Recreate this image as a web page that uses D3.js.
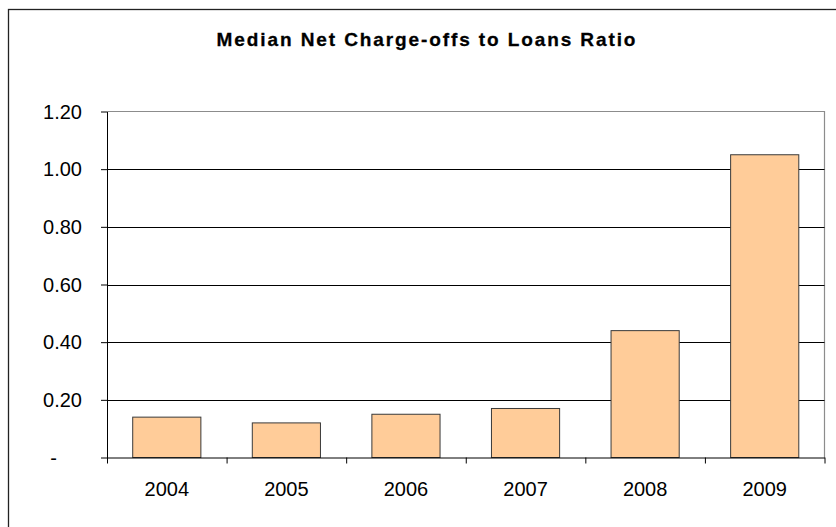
<!DOCTYPE html>
<html lang="en">
<head>
    <meta charset="UTF-8">
    <title>Median Net Charge-offs to Loans Ratio</title>
    <script src="https://d3js.org/d3.v7.min.js"></script>
    <style>
        body { margin: 0; background: white; }
        text { font-family: "Liberation Sans", Arial, sans-serif; fill: black; }
    </style>
</head>
<body>
    <script>
        var years = ["2004", "2005", "2006", "2007", "2008", "2009"];
        var ratios = [0.14, 0.12, 0.15, 0.17, 0.44, 1.05];
        var yTicks = [0, 0.2, 0.4, 0.6, 0.8, 1.0, 1.2];

        var width = 836, height = 527;
        var plotLeft = 107, plotRight = 824.5, plotTop = 111.5, plotBottom = 457.5;

        var svg = d3.select("body")
            .append("svg")
            .attr("width", width)
            .attr("height", height);

        // outer chart frame (cropped at right/bottom)
        svg.append("rect")
            .attr("x", 8.5).attr("y", 9.5)
            .attr("width", 900).attr("height", 600)
            .style("fill", "white")
            .style("stroke", "#222")
            .style("stroke-width", 1.3);

        svg.append("text")
            .attr("x", 427)
            .attr("y", 46)
            .attr("text-anchor", "middle")
            .style("font-size", "19px")
            .style("font-weight", "bold")
            .style("letter-spacing", "1.9px")
            .style("stroke", "black")
            .style("stroke-width", 0.3)
            .text("Median Net Charge-offs to Loans Ratio");

        var x = d3.scaleBand()
            .domain(years)
            .range([plotLeft, plotRight])
            .paddingInner(0.43)
            .paddingOuter(0.215);

        var y = d3.scaleLinear()
            .domain([0, 1.2])
            .range([plotBottom, plotTop]);

        // plot area border (top/right grey)
        svg.append("path")
            .attr("d", "M" + plotLeft + "," + plotTop + "H" + plotRight + "V" + plotBottom)
            .style("fill", "none")
            .style("stroke", "#8c8c8c")
            .style("stroke-width", 1.2);

        // gridlines
        svg.append("g")
            .selectAll("line")
            .data(yTicks.filter(function(d){ return d > 0 && d < 1.2; }))
            .join("line")
            .attr("x1", plotLeft).attr("x2", plotRight)
            .attr("y1", function(d){ return Math.round(y(d)) + 0.5; })
            .attr("y2", function(d){ return Math.round(y(d)) + 0.5; })
            .style("stroke", "black")
            .style("stroke-width", 1);

        // bars
        svg.append("g")
            .selectAll("rect")
            .data(ratios)
            .join("rect")
            .attr("x", function(d, i){ return x(years[i]); })
            .attr("y", function(d){ return y(d); })
            .attr("width", x.bandwidth())
            .attr("height", function(d){ return y(0) - y(d); })
            .style("fill", "#ffcc99")
            .style("stroke", "#3a3a3a")
            .style("stroke-width", 1);

        // y axis
        var yAxis = svg.append("g")
            .attr("transform", "translate(" + plotLeft + ",0)")
            .call(d3.axisLeft(y)
                .tickValues(yTicks)
                .tickSize(6)
                .tickSizeOuter(0)
                .tickFormat(function(d){ return d === 0 ? "-" : d3.format(".2f")(d); }));
        yAxis.select(".domain").style("stroke", "black");
        yAxis.selectAll(".tick line").style("stroke", "black");
        yAxis.selectAll(".tick text")
            .style("font-size", "20px")
            .style("font-family", "'Liberation Sans', Arial, sans-serif")
            .attr("dy", "0.34em")
            .attr("x", function(d){ return d === 0 ? -50 : -25; });

        // x axis: ticks at category boundaries
        var xEdge = d3.scaleLinear().domain([0, years.length]).range([plotLeft, plotRight]);
        var xTicks = svg.append("g")
            .attr("transform", "translate(0," + plotBottom + ")")
            .call(d3.axisBottom(xEdge)
                .tickValues(d3.range(years.length + 1))
                .tickSize(6)
                .tickSizeOuter(0)
                .tickFormat(""));
        xTicks.select(".domain").style("stroke", "black");
        xTicks.selectAll(".tick line").style("stroke", "black");

        var xAxis = svg.append("g")
            .attr("transform", "translate(0," + plotBottom + ")")
            .call(d3.axisBottom(x).tickSize(0).tickPadding(24));
        xAxis.select(".domain").remove();
        xAxis.selectAll(".tick text")
            .style("font-size", "20px")
            .style("font-family", "'Liberation Sans', Arial, sans-serif");
    </script>
</body>
</html>
